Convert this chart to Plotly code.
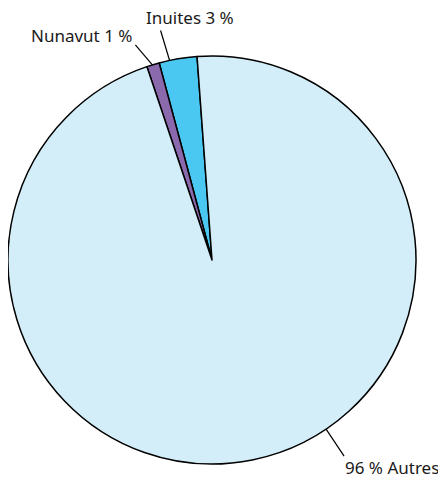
import math
import plotly.graph_objects as go

labels = ["Inuites", "Nunavut", "Autres"]
values = [3, 1, 96]
text_labels = ["Inuites 3 %", "Nunavut 1 %", "96 % Autres"]
colors = ["#4bc8f2", "#8b69ad", "#d4eef9"]

W, H = 446, 478
OFF = 8  # page body margin in the browser
cx, cy, r = 212 - OFF, 260 - OFF, 204
start_deg = 4.2  # counterclockwise from 12 o'clock where the first slice begins

# leader lines: angle (ccw from top) where the line meets the circle, and its vector
leader_angle = [12.0, 17.0, 214.0]
leader_vec = [(-9, -30), (-17, -20), (18, 27)]
text_anchor = [("left", "bottom"), ("right", "bottom"), ("left", "top")]
text_shift = [(-16, 0), (-2, 3), (0, -1)]

span0 = 360 * values[0] / sum(values)
fig = go.Figure(go.Pie(
    labels=labels, values=values, sort=False, direction="counterclockwise",
    rotation=-(start_deg + span0),
    marker=dict(colors=colors, line=dict(color="#000000", width=1.5)),
    textinfo="none", hoverinfo="label+percent", showlegend=False,
    domain=dict(x=[(cx - r) / W, (cx + r) / W], y=[1 - (cy + r) / H, 1 - (cy - r) / H]),
))

def px(x):
    return x / W

def py(y):
    return 1 - y / H

for i in range(len(values)):
    a = math.radians(leader_angle[i])
    x0 = cx - r * math.sin(a)
    y0 = cy - r * math.cos(a)
    x1 = x0 + leader_vec[i][0]
    y1 = y0 + leader_vec[i][1]
    fig.add_shape(type="line", xref="paper", yref="paper",
                  x0=px(x0), y0=py(y0), x1=px(x1), y1=py(y1),
                  line=dict(color="#000000", width=1.2))
    xa, ya = text_anchor[i]
    fig.add_annotation(x=px(x1 + text_shift[i][0]), y=py(y1 + text_shift[i][1]),
                       xref="paper", yref="paper", text=text_labels[i],
                       showarrow=False, xanchor=xa, yanchor=ya, borderpad=0,
                       font=dict(family="Noto Sans", size=17, color="#1a1a1a"))

fig.update_layout(width=W, height=H, margin=dict(l=0, r=0, t=0, b=0),
                  paper_bgcolor="white", plot_bgcolor="white")
fig.write_html("out.html")
